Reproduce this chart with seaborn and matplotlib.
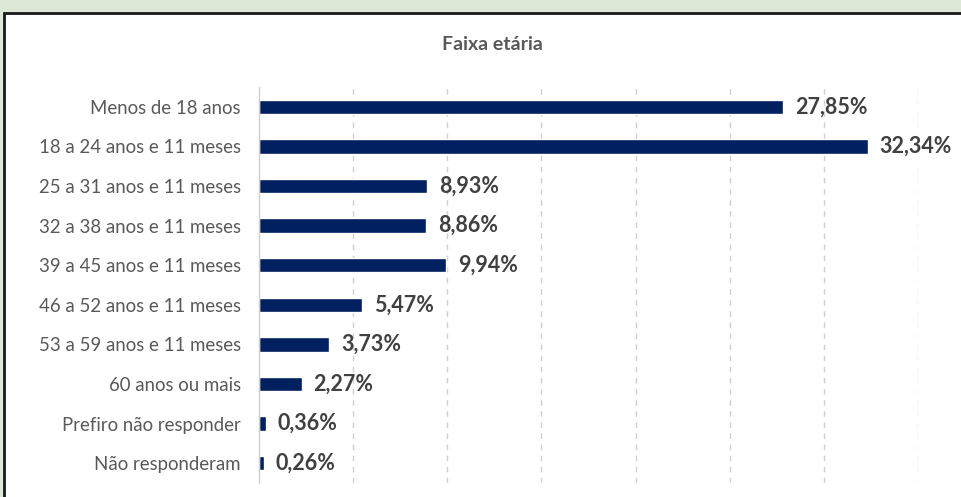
import matplotlib
matplotlib.use("Agg")
import matplotlib.pyplot as plt
import seaborn as sns
import pandas as pd
from matplotlib.patches import Rectangle

categories = ["Menos de 18 anos", "18 a 24 anos e 11 meses", "25 a 31 anos e 11 meses",
              "32 a 38 anos e 11 meses", "39 a 45 anos e 11 meses", "46 a 52 anos e 11 meses",
              "53 a 59 anos e 11 meses", "60 anos ou mais", "Prefiro não responder",
              "Não responderam"]
values = [27.85, 32.34, 8.93, 8.86, 9.94, 5.47, 3.73, 2.27, 0.36, 0.26]
value_labels = ["27,85%", "32,34%", "8,93%", "8,86%", "9,94%", "5,47%", "3,73%", "2,27%", "0,36%", "0,26%"]
title = "Faixa etária"

df = pd.DataFrame({"cat": categories, "val": values})

sns.set_theme(style="white")
plt.rcParams["font.family"] = ["Lato", "DejaVu Sans"]

W, H = 962, 497
fig = plt.figure(figsize=(W / 100, H / 100), dpi=100)
fig.patch.set_facecolor("#dde9d6")

# chart box
box = Rectangle((4 / W, -0.01), 1.0, 1.01 - 13 / H, transform=fig.transFigure,
                facecolor="white", edgecolor="#1a1a1a", linewidth=2, zorder=-5)
fig.patches.append(box)

left, right = 259 / W, 918 / W
top, bottom = 1 - 87 / H, 1 - 483 / H
ax = fig.add_axes([left, bottom, right - left, top - bottom])
ax.set_zorder(2)
ax.set_facecolor("none")

sns.barplot(data=df, x="val", y="cat", color="#002060", width=0.36, ax=ax,
            saturation=1, orient="h")

ax.set_xlim(0, 35)
ax.set_xticks(range(5, 36, 5))
ax.xaxis.grid(True, linestyle=(0, (4, 4)), color="#d0d0d0", linewidth=1)
ax.set_axisbelow(True)
ax.tick_params(axis="x", bottom=False, labelbottom=False)
ax.tick_params(axis="y", left=False, pad=7, labelsize=13.4, labelcolor="#595959")
for s in ["top", "right", "bottom"]:
    ax.spines[s].set_visible(False)
ax.spines["left"].set_color("#d0d0d0")
ax.spines["left"].set_linewidth(1)
ax.set_xlabel("")
ax.set_ylabel("")

for i, (v, lab) in enumerate(zip(values, value_labels)):
    ax.annotate(lab, xy=(v, i), xytext=(8.5, 0), textcoords="offset points",
                va="center", ha="left", fontsize=15.5, fontweight="bold", color="#404040")

fig.text(492 / W, 1 - 45 / H, title, ha="center", va="center", fontsize=14,
         fontweight="bold", color="#595959", zorder=3)

fig.savefig("out.png", dpi=100, facecolor=fig.get_facecolor())
